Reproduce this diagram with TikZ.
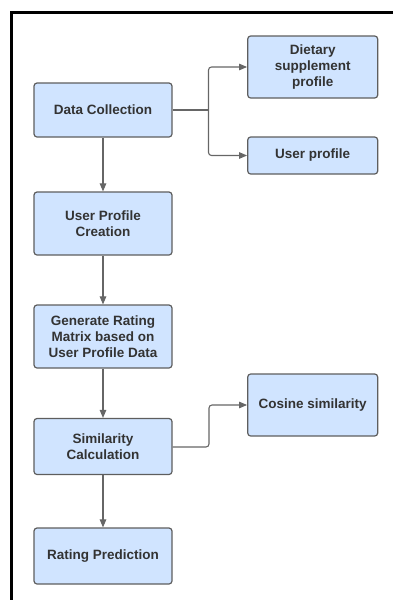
\documentclass[tikz,border=0pt]{standalone}
\usepackage{fontspec}
\setmainfont{Liberation Sans}
\usetikzlibrary{arrows.meta}
\definecolor{boxfill}{HTML}{D0E4FF}
\definecolor{boxline}{HTML}{5E5E5E}
\definecolor{txt}{HTML}{333333}
\definecolor{wirecol}{HTML}{666666}
\begin{document}
\begin{tikzpicture}[x=1pt,y=-1pt,
  box/.style={draw=boxline, line width=1.2pt, fill=boxfill, rounded corners=3pt,
    align=center, font=\fontsize{13.5}{16}\selectfont\bfseries, text=txt, inner sep=0pt},
  leftbox/.style={box, minimum width=138pt},
  rightbox/.style={box, minimum width=130pt},
  wire/.style={draw=wirecol, line width=1.1pt},
  arr/.style={wire, -{Triangle[length=8pt,width=6.5pt]}}]
\useasboundingbox (0,0) rectangle (393,600);
% frame
\draw[line width=2.5pt] (11.5,600) -- (11.5,12.5) -- (393,12.5);

% main column
\node[leftbox, minimum height=54pt] (dc)  at (103,110)   {Data Collection};
\node[leftbox, minimum height=63pt] (upc) at (103,223.5) {User Profile\\Creation};
\node[leftbox, minimum height=63pt] (gr)  at (103,336.5) {Generate Rating\\Matrix based on\\User Profile Data};
\node[leftbox, minimum height=56pt] (sc)  at (103,446.5) {Similarity\\Calculation};
\node[leftbox, minimum height=56pt] (rp)  at (103,556)   {Rating Prediction};

% side boxes
\node[rightbox, minimum height=62pt] (dsp) at (312.7,67)   {Dietary\\supplement\\profile};
\node[rightbox, minimum height=37pt] (up)  at (312.7,155.5) {User profile};
\node[rightbox, minimum height=62pt] (cos) at (312.7,405)   {Cosine similarity};

% vertical flow
\draw[arr] (dc) -- (upc);
\draw[arr] (upc) -- (gr);
\draw[arr] (gr) -- (sc);
\draw[arr] (sc) -- (rp);

% branches
\coordinate (split) at (208.5,110);
\draw[wire] (dc.east) -- (split);
\draw[arr, rounded corners=3pt] (split) |- (dsp.west);
\draw[arr, rounded corners=3pt] (split) |- (up.west);

\coordinate (bend) at (209,447);
\draw[arr, rounded corners=3pt] (sc.east |- bend) -- (bend) |- (cos.west);
\end{tikzpicture}
\end{document}
